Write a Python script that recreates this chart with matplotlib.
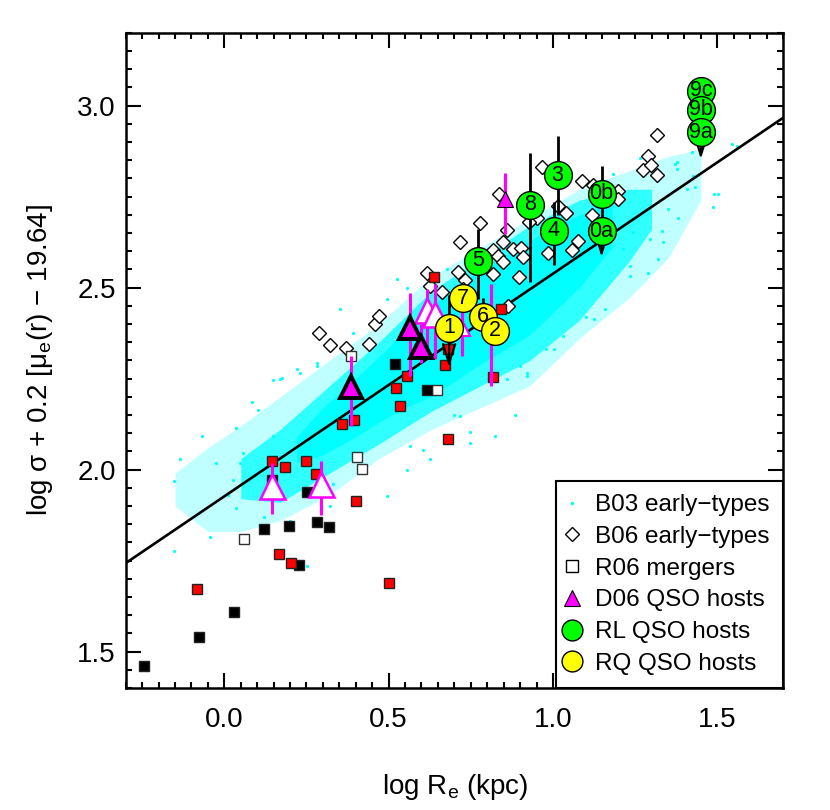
import matplotlib
matplotlib.use('Agg')
import matplotlib.pyplot as plt
from matplotlib.lines import Line2D
from matplotlib.ticker import MultipleLocator, FormatStrFormatter

plt.rcParams['font.family'] = ['Liberation Sans', 'DejaVu Sans']
plt.rcParams['mathtext.fontset'] = 'custom'
plt.rcParams['mathtext.rm'] = 'Liberation Sans'
plt.rcParams['mathtext.it'] = 'Liberation Sans:italic'

# ---------------- data ----------------
# best-fit relation (end points)
fit_x = [-0.3, 1.7]
fit_y = [1.743, 2.966]

# B03 early-types cloud: envelopes (sparse outer, medium, dense core)
cloud_outer_x = [-0.15, -0.05, 0.05, 0.17, 0.32, 0.47, 0.63, 0.78, 0.93, 1.08, 1.23, 1.35, 1.45]
cloud_outer_hi = [1.99, 2.06, 2.12, 2.20, 2.30, 2.40, 2.53, 2.61, 2.69, 2.77, 2.82, 2.86, 2.88]
cloud_outer_lo = [1.90, 1.83, 1.83, 1.86, 1.93, 2.03, 2.11, 2.17, 2.23, 2.36, 2.47, 2.58, 2.74]
cloud_mid_x = [0.05, 0.17, 0.32, 0.47, 0.63, 0.78, 0.93, 1.08, 1.23, 1.30]
cloud_mid_hi = [2.03, 2.11, 2.23, 2.35, 2.49, 2.58, 2.67, 2.74, 2.77, 2.77]
cloud_mid_lo = [1.92, 1.91, 1.99, 2.07, 2.16, 2.23, 2.30, 2.41, 2.57, 2.66]
cloud_core_x = [0.22, 0.30, 0.40, 0.47, 0.55, 0.63, 0.78, 0.93, 1.08, 1.18]
cloud_core_hi = [2.09, 2.17, 2.25, 2.31, 2.38, 2.45, 2.55, 2.63, 2.70, 2.73]
cloud_core_lo = [2.02, 2.04, 2.09, 2.13, 2.17, 2.20, 2.29, 2.37, 2.50, 2.61]
# scattered B03 galaxies outside the main cloud
b03_x = [-0.135, -0.152, -0.068, -0.044, -0.152, 0.035, 0.083, 0.103, 0.149, 0.175, -0.024, 0.047,
         0.037, 0.230, 0.281, 0.393, 0.496, 0.555, 0.606, 0.251, 0.322, 0.494, 0.453, 0.352, 0.717,
         0.748, 1.545, 1.378, 1.489, 1.486, 1.382, 1.321, 1.331, 1.351, 1.235, 1.159, 1.124, 1.002,
         0.901, 0.921, 0.860, 1.214, 1.295, 1.245, 1.407, 1.427, 1.559, 1.424, 1.265, 1.378, 1.432,
         1.503, 1.334, 1.371, 1.184,
         0.170, 0.221, 0.282, 0.525, 0.555, 0.677, 0.565, 0.626, 0.748, 0.823, 0.884, 0.920,
         1.032, 1.234, 0.148, 0.058, 0.028, 0.010, 0.120, 0.200, 0.330, 0.420, 0.700, 0.980,
         1.100, 1.290]
b03_y = [2.030, 1.968, 2.092, 1.815, 1.775, 2.115, 2.185, 2.163, 2.245, 2.252, 2.018, 2.018,
         1.895, 2.266, 2.284, 2.376, 1.927, 2.000, 2.055, 1.734, 1.899, 2.468, 2.404, 2.440, 2.147,
         2.102, 2.895, 2.826, 2.757, 2.722, 2.690, 2.578, 2.656, 2.716, 2.560, 2.440, 2.413, 2.330,
         2.284, 2.257, 2.248, 2.606, 2.633, 2.652, 2.771, 2.807, 2.889, 2.873, 2.855, 2.844, 2.775,
         2.757, 2.626, 2.840, 2.812,
         2.248, 2.275, 2.294, 2.523, 2.500, 2.551, 2.064, 2.028, 2.073, 2.092, 2.151, 2.266,
         2.367, 2.532, 2.092, 2.046, 1.972, 1.930, 1.870, 1.860, 1.960, 2.010, 2.150, 2.330,
         2.420, 2.540]

# B06 early-types (open diamonds)
b06_x = [0.967, 1.089, 1.123, 1.016, 1.039, 0.952, 0.928, 1.118, 1.199, 1.199, 0.836, 0.860,
         0.779, 0.718, 0.847, 0.818, 0.877, 0.902, 0.908, 0.834, 0.849, 0.818, 0.897, 0.986,
         1.077, 1.059, 0.710, 0.616, 0.626, 0.661, 0.732, 1.275, 1.290, 1.316, 1.297, 1.317,
         0.864, 0.289, 0.321, 0.370, 0.441, 0.458, 0.470, 0.727]
b06_y = [2.830, 2.792, 2.782, 2.725, 2.704, 2.690, 2.681, 2.699, 2.766, 2.743, 2.757, 2.658,
         2.676, 2.626, 2.626, 2.604, 2.607, 2.609, 2.584, 2.587, 2.569, 2.537, 2.528, 2.594,
         2.627, 2.604, 2.544, 2.541, 2.503, 2.489, 2.521, 2.824, 2.862, 2.920, 2.837, 2.810,
         2.449, 2.376, 2.341, 2.335, 2.344, 2.399, 2.422, 2.495]

# R06 mergers (squares)
r06_black_x = [0.519, 0.616, 0.253, 0.120, 0.198, 0.282, 0.319, 0.227, 0.029, -0.077, -0.245, 0.144]
r06_black_y = [2.291, 2.218, 1.938, 1.838, 1.845, 1.855, 1.842, 1.739, 1.610, 1.540, 1.460, 1.972]
r06_red_x = [0.555, 0.522, 0.536, 0.357, 0.395, 0.671, 0.681, 0.638, 0.842, 0.818, 0.681,
             0.144, 0.186, 0.250, 0.278, 0.402, 0.165, 0.202, -0.082, 0.501]
r06_red_y = [2.257, 2.225, 2.174, 2.126, 2.135, 2.286, 2.330, 2.528, 2.442, 2.255, 2.085,
             2.023, 2.006, 2.023, 1.988, 1.915, 1.769, 1.744, 1.672, 1.688]
r06_open_x = [0.385, 0.648, 0.405, 0.418, 0.059]
r06_open_y = [2.312, 2.218, 2.034, 2.002, 1.809]

# D06 QSO hosts (triangles) with error bars
d06_big_x = [0.385, 0.564, 0.598]
d06_big_y = [2.228, 2.390, 2.338]
d06_big_lo = [2.119, 2.257, 2.292]
d06_big_hi = [2.312, 2.486, 2.400]
d06_small_x = [0.854]
d06_small_y = [2.743]
d06_small_lo = [2.647]
d06_small_hi = [2.815]
d06_open_x = [0.618, 0.641, 0.144, 0.294]
d06_open_y = [2.438, 2.427, 1.954, 1.959]
d06_open_lo = [2.330, 2.303, 1.879, 1.876]
d06_open_hi = [2.495, 2.509, 2.018, 2.023]
d06_open_small_x = [0.722]
d06_open_small_y = [2.390]
d06_open_small_lo = [2.312]
d06_open_small_hi = [2.449]
d06_hidden_x = [0.811]          # marker hidden behind RQ host "2"
d06_hidden_lo = [2.229]
d06_hidden_hi = [2.509]

# RL QSO hosts (green circles)
rl_labels = ['9c', '9b', '9a', '0b', '0a', '3', '4', '8', '5']
rl_x = [1.450, 1.450, 1.450, 1.148, 1.148, 1.014, 1.003, 0.931, 0.771]
rl_y = [3.041, 2.988, 2.927, 2.757, 2.654, 2.809, 2.656, 2.727, 2.573]
rl_err_x = [1.148, 1.014, 1.003, 0.931, 0.771]
rl_err_lo = [2.654, 2.700, 2.562, 2.514, 2.468]
rl_err_hi = [2.835, 2.916, 2.734, 2.869, 2.661]
rl_lim_x = [1.450, 1.148]
rl_lim_from = [2.927, 2.654]
rl_lim_to = [2.853, 2.584]

# RQ QSO hosts (yellow circles)
rq_labels = ['7', '1', '6', '2']
rq_x = [0.725, 0.684, 0.788, 0.824]
rq_y = [2.471, 2.390, 2.420, 2.381]
rq_err_x = [0.788, 0.684]
rq_err_lo = [2.420, 2.390]
rq_err_hi = [2.471, 2.480]
rq_lim_x = [0.684]
rq_lim_from = [2.390]
rq_lim_to = [2.281]

legend_labels = ['B03 early\u2212types', 'B06 early\u2212types', 'R06 mergers',
                 'D06 QSO hosts', 'RL QSO hosts', 'RQ QSO hosts']

# ---------------- figure ----------------
CYAN = '#00FFFF'
MAG = '#FF00FF'
fig = plt.figure(figsize=(8.3, 8.1), dpi=100)
ax = fig.add_axes([125.7 / 830, 1 - 688 / 810, 657.3 / 830, 655.3 / 810])
ax.set_xlim(-0.3, 1.7)
ax.set_ylim(1.4, 3.2)

ax.fill_between(cloud_outer_x, cloud_outer_lo, cloud_outer_hi, color=CYAN, alpha=0.25, lw=0, zorder=1)
ax.fill_between(cloud_mid_x, cloud_mid_lo, cloud_mid_hi, color=CYAN, alpha=0.75, lw=0, zorder=1)
ax.fill_between(cloud_core_x, cloud_core_lo, cloud_core_hi, color=CYAN, alpha=1.0, lw=0, zorder=1)
ax.plot(b03_x, b03_y, 'o', ms=2.3, mfc=CYAN, mec='none', ls='none', zorder=1)

ax.plot(fit_x, fit_y, '-', color='black', lw=1.9, zorder=2)

ax.plot(b06_x, b06_y, 'D', ms=7, mfc='white', mec='black', mew=1.0, ls='none', zorder=3)

sq = dict(ms=7.5, mew=1.0, ls='none', zorder=4)
ax.plot(r06_open_x, r06_open_y, 's', mfc='white', mec='#333333', **sq)
ax.plot(r06_black_x, r06_black_y, 's', mfc='black', mec='#222222', **sq)
ax.plot(r06_red_x, r06_red_y, 's', mfc='red', mec='#222222', **sq)

# magenta error bars
for xs, lo, hi in [(d06_big_x, d06_big_lo, d06_big_hi), (d06_small_x, d06_small_lo, d06_small_hi),
                   (d06_open_x, d06_open_lo, d06_open_hi),
                   (d06_open_small_x, d06_open_small_lo, d06_open_small_hi),
                   (d06_hidden_x, d06_hidden_lo, d06_hidden_hi)]:
    ax.vlines(xs, lo, hi, color=MAG, lw=2.2, zorder=5)
ax.plot(d06_open_x, d06_open_y, '^', ms=18, mfc='white', mec=MAG, mew=1.8, ls='none', zorder=6)
ax.plot(d06_open_small_x, d06_open_small_y, '^', ms=11, mfc='white', mec=MAG, mew=1.5, ls='none', zorder=6)
ax.plot(d06_big_x, d06_big_y, '^', ms=16, mfc=MAG, mec='black', mew=2.8, ls='none', zorder=6)
ax.plot(d06_small_x, d06_small_y, '^', ms=11, mfc=MAG, mec='black', mew=0.8, ls='none', zorder=6)

# black error bars and upper-limit arrows for QSO hosts
ax.vlines(rl_err_x, rl_err_lo, rl_err_hi, color='black', lw=2.0, zorder=7)
ax.vlines(rq_err_x, rq_err_lo, rq_err_hi, color='black', lw=2.0, zorder=7)
for xs, y0s, y1s in [(rl_lim_x, rl_lim_from, rl_lim_to), (rq_lim_x, rq_lim_from, rq_lim_to)]:
    for x0, y0, y1 in zip(xs, y0s, y1s):
        ax.annotate('', xy=(x0, y1), xytext=(x0, y0), zorder=7,
                    arrowprops=dict(arrowstyle='->,head_length=0.7,head_width=0.22',
                                    color='black', lw=1.6, mutation_scale=20,
                                    shrinkA=0, shrinkB=0))

ax.plot(rq_x, rq_y, 'o', ms=20, mfc='yellow', mec='black', mew=1.0, ls='none', zorder=8)
for lab, x0, y0 in zip(rq_labels, rq_x, rq_y):
    ax.text(x0, y0, lab, ha='center', va='center', fontsize=15.5, zorder=9)
ax.plot(rl_x, rl_y, 'o', ms=20, mfc='#00FF00', mec='black', mew=1.0, ls='none', zorder=8)
for lab, x0, y0 in zip(rl_labels, rl_x, rl_y):
    ax.text(x0, y0, lab, ha='center', va='center', fontsize=15.5, zorder=9)

# axes styling
ax.xaxis.set_major_locator(MultipleLocator(0.5))
ax.xaxis.set_minor_locator(MultipleLocator(0.05))
ax.yaxis.set_major_locator(MultipleLocator(0.5))
ax.yaxis.set_minor_locator(MultipleLocator(0.05))
ax.xaxis.set_major_formatter(FormatStrFormatter('%.1f'))
ax.yaxis.set_major_formatter(FormatStrFormatter('%.1f'))
ax.tick_params(which='both', direction='in', top=True, right=True, width=1.5, colors='black')
ax.tick_params(which='major', length=11, labelsize=20)
ax.tick_params(which='minor', length=4.5)
ax.tick_params(axis='x', which='major', pad=14)
ax.tick_params(axis='y', which='major', pad=7)
for s in ax.spines.values():
    s.set_linewidth(1.8)

ax.set_xlabel('log R$_{\\rm e}$ (kpc)', fontsize=20)
ax.set_ylabel('log \u03c3 + 0.2 [\u03bc$_{\\rm e}$(r) \u2212 19.64]', fontsize=20)
ax.xaxis.set_label_coords(0.501, -0.128)
ax.yaxis.set_label_coords(-0.108, 0.5)

handles = [
    Line2D([], [], ls='none', marker='o', ms=2.5, mfc=CYAN, mec='none'),
    Line2D([], [], ls='none', marker='D', ms=7, mfc='white', mec='black', mew=1.0),
    Line2D([], [], ls='none', marker='s', ms=8, mfc='white', mec='black', mew=1.0),
    Line2D([], [], ls='none', marker='^', ms=12, mfc=MAG, mec='black', mew=0.8),
    Line2D([], [], ls='none', marker='o', ms=15, mfc='#00FF00', mec='black', mew=1.0),
    Line2D([], [], ls='none', marker='o', ms=15, mfc='yellow', mec='black', mew=1.0),
]
leg = ax.legend(handles, legend_labels, loc='lower right', fontsize=17.5, frameon=True,
                fancybox=False, borderaxespad=0, borderpad=0.54, labelspacing=0.40,
                handlelength=0.3, handletextpad=0.8, edgecolor='black', framealpha=1)
leg.get_frame().set_linewidth(1.5)
leg.set_zorder(10)

fig.savefig('out.png', dpi=100)
